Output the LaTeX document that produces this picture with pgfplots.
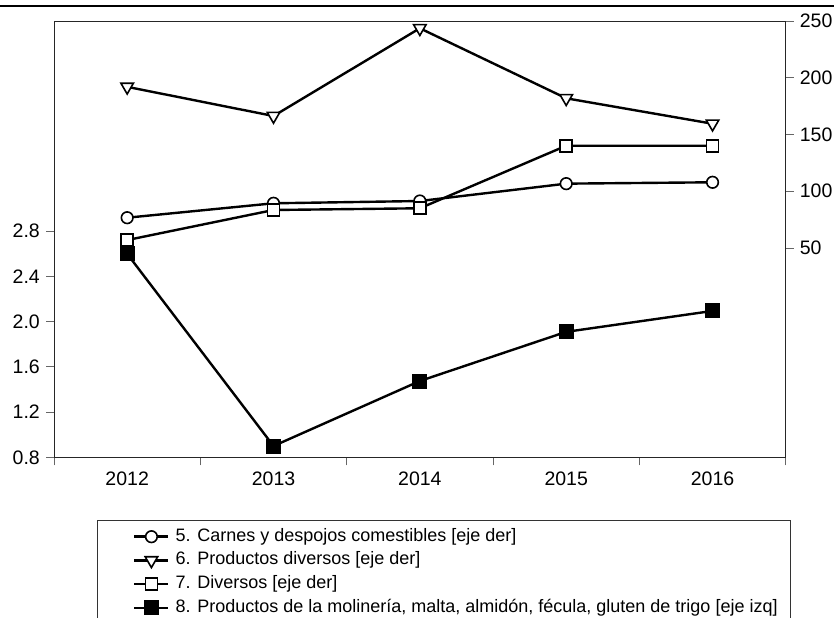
\documentclass[border=0pt]{standalone}
\usepackage{pgfplots}
\pgfplotsset{compat=1.18}
\usepackage{fontspec}
\setmainfont{Liberation Sans}
\begin{document}
\fontsize{18bp}{22bp}\selectfont
\begin{tikzpicture}
\useasboundingbox (0bp,0bp) rectangle (834bp,-618bp);
\draw[line width=2bp] (0bp,-6bp) -- (834bp,-6bp);
\draw[line width=0.8bp, black!80] (97bp,-520.7bp) rectangle (790.7bp,-660bp);
\pgfplotsset{
  every axis/.append style={
    scale only axis, width=731.7bp, height=436.3bp,
    at={(54bp,-457.3bp)}, anchor=south west,
    xmin=2011.5, xmax=2016.5,
    tick align=outside, major tick length=8bp,
    axis line style={line width=0.8bp, black!85},
    tick style={line width=0.8bp, black!60},
    ticklabel style={font=\fontsize{19.5bp}{23bp}\selectfont},
    /pgf/number format/assume math mode=true,
  },
}
\begin{axis}[
  ymin=0.8, ymax=4.66,
  ytick={0.8,1.2,1.6,2.0,2.4,2.8},
  yticklabel style={/pgf/number format/.cd, fixed, fixed zerofill, precision=1},
  ytick pos=left, xtick pos=bottom,
  xtick={2011.5,2012.5,...,2016.5}, xticklabels={},
  extra x ticks={2012,2013,2014,2015,2016},
  extra x tick labels={2012,2013,2014,2015,2016},
  extra x tick style={tick style={draw=none}},
]
\addplot[black, line width=2.4bp, mark=square*, mark size=6.3bp, mark options={solid, fill=black}]
  coordinates {(2012,2.60) (2013,0.90) (2014,1.475) (2015,1.91) (2016,2.095)};
\end{axis}
\begin{axis}[
  ymin=-134.4, ymax=250,
  axis x line=none, axis y line*=right,
  ytick={50,100,150,200,250},
  legend style={at={(0.108,-0.162)}, anchor=north west, draw=none, fill=none,
    inner sep=0pt, row sep=6.7bp, column sep=6bp,
    nodes={inner sep=0pt, text height=13bp, text depth=4bp},
    font=\fontsize{18bp}{22bp}\selectfont},
  legend cell align=left,
  legend image code/.code={\draw[mark repeat=2, mark phase=2] plot coordinates {(0bp,0bp) (17bp,0bp) (34bp,0bp)};},
]
\addplot[black, line width=2.4bp, mark=*, mark size=5.8bp, mark options={solid, fill=white, line width=1.6bp}]
  coordinates {(2012,76.7) (2013,89.4) (2014,91.4) (2015,106.7) (2016,107.9)};
\addlegendentry{5. Carnes y despojos comestibles [eje der]}
\addplot[black, line width=2.4bp, mark=triangle*, mark size=7.2bp, mark options={solid, fill=white, line width=1.6bp, rotate=180}]
  coordinates {(2012,192) (2013,166.3) (2014,243.6) (2015,181.9) (2016,159.5)};
\addlegendentry{6. Productos diversos [eje der]}
\addplot[black, line width=2.4bp, mark=square*, mark size=6bp, mark options={solid, fill=white, line width=1.6bp}]
  coordinates {(2012,57) (2013,83.5) (2014,85) (2015,140.1) (2016,140.1)};
\addlegendentry{7. Diversos [eje der]}
\addlegendimage{black, line width=2.4bp, mark=square*, mark size=6.3bp, mark options={solid, fill=black}}
\addlegendentry{8. Productos de la molinería, malta, almidón, fécula, gluten de trigo [eje izq]}
\end{axis}
\end{tikzpicture}
\end{document}
